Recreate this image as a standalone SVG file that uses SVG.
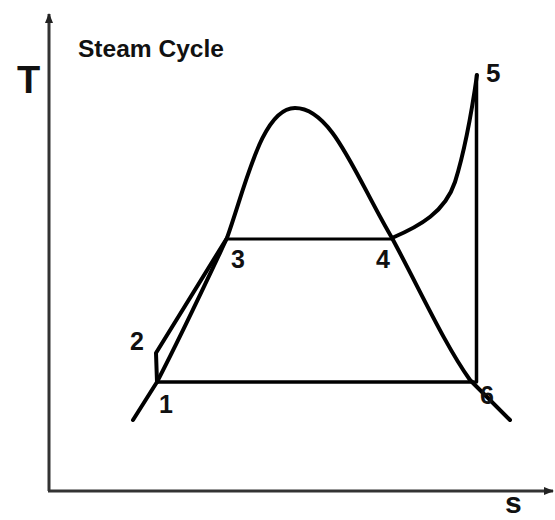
<svg xmlns="http://www.w3.org/2000/svg" width="555" height="520" viewBox="0 0 555 520">
<defs>
<style>
.ax{stroke:#333;stroke-width:3;fill:none}
.ln{stroke:#000;fill:none;stroke-linecap:round;stroke-linejoin:round}
.t{font-family:"Liberation Sans",Arial,sans-serif;font-weight:bold;fill:#111}
</style>
<marker id="ah" markerWidth="10" markerHeight="10" refX="9" refY="5" orient="auto" markerUnits="userSpaceOnUse">
<path d="M0,1 L10,5 L0,9 Z" fill="#222"/>
</marker>
</defs>
<rect width="555" height="520" fill="#fff"/>
<g id="axes">
<line class="ax" x1="49" y1="491" x2="49" y2="14" marker-end="url(#ah)"/>
<line class="ax" x1="48" y1="491" x2="553" y2="491" marker-end="url(#ah)"/>
<text class="t" x="17" y="93" font-size="38">T</text>
<text class="t" x="505" y="513" font-size="30">s</text>
<text class="t" x="78" y="57" font-size="23" textLength="146" lengthAdjust="spacingAndGlyphs">Steam Cycle</text>
</g>
<g id="connectors">
<path id="dome" class="ln" stroke-width="4" d="M133,420 L157,382 C183,332 210,274 227,238 C246,185 262,108 295,108 C332,108 355,175 392,238 C420,290 445,345 470,380 L510,420"/>
<path id="pump" class="ln" stroke-width="4" d="M157,382 L156,353 L227,238"/>
<line id="evap" class="ln" stroke-width="3" x1="227" y1="239" x2="392" y2="239"/>
<path id="superheat" class="ln" stroke-width="4" d="M392,238 C420,226 445,212 455,182 C465,150 472,110 477,75"/>
<line id="turbine" class="ln" stroke-width="3.5" x1="476.5" y1="75" x2="476.5" y2="382"/>
<line id="condense" class="ln" stroke-width="3.5" x1="157" y1="382" x2="474" y2="382"/>
</g>
<g id="p1"><text class="t" x="159" y="413" font-size="25">1</text></g>
<g id="p2"><text class="t" x="130" y="350" font-size="25">2</text></g>
<g id="p3"><text class="t" x="231" y="268" font-size="25">3</text></g>
<g id="p4"><text class="t" x="376" y="268" font-size="25">4</text></g>
<g id="p5"><text class="t" x="486" y="82" font-size="26">5</text></g>
<g id="p6"><text class="t" x="480" y="404" font-size="25">6</text></g>
</svg>
